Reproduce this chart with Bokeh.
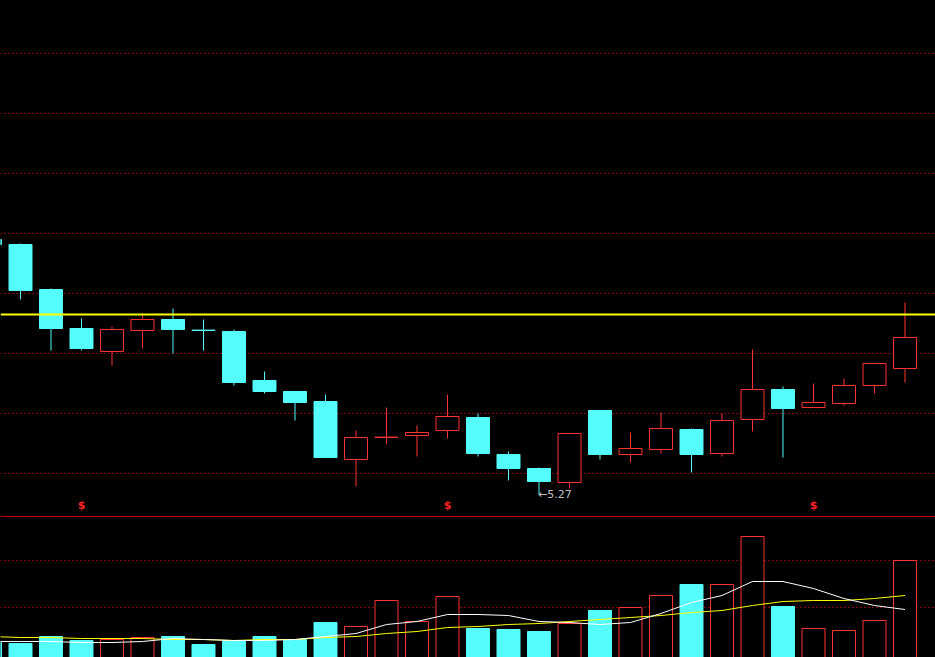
from bokeh.plotting import figure
from bokeh.models import Range1d, Span, ColumnDataSource, GlobalInlineStyleSheet, Grid, FixedTicker
from bokeh.core.properties import value
from bokeh.embed import file_html
from bokeh.resources import INLINE

# ---------------- data ----------------
idx = list(range(31))
opens = [6.545, 6.52, 6.295, 6.10, 5.985, 6.09, 6.145, 6.092, 6.085, 5.84, 5.785,
         5.735, 5.445, 5.555, 5.565, 5.59, 5.655, 5.47, 5.40, 5.33, 5.69,
         5.47, 5.495, 5.595, 5.475, 5.645, 5.795, 5.705, 5.725, 5.815, 5.90]
closes = [6.52, 6.29, 6.10, 6.00, 6.095, 6.145, 6.095, 6.090, 5.83, 5.785, 5.73,
          5.455, 5.555, 5.557, 5.58, 5.66, 5.475, 5.40, 5.335, 5.575, 5.47,
          5.50, 5.60, 5.47, 5.64, 5.795, 5.70, 5.73, 5.815, 5.925, 6.055]
highs = [6.545, 6.525, 6.30, 6.15, 6.11, 6.175, 6.20, 6.145, 6.095, 5.885, 5.785,
         5.77, 5.59, 5.705, 5.615, 5.77, 5.675, 5.485, 5.405, 5.575, 5.69,
         5.58, 5.68, 5.60, 5.675, 5.995, 5.81, 5.825, 5.85, 5.925, 6.23]
lows = [6.52, 6.245, 5.99, 5.99, 5.915, 6.00, 5.975, 5.99, 5.815, 5.775, 5.64,
        5.455, 5.31, 5.52, 5.46, 5.55, 5.46, 5.34, 5.27, 5.30, 5.445,
        5.43, 5.475, 5.38, 5.46, 5.585, 5.455, 5.705, 5.715, 5.775, 5.83]
volumes = [15, 14, 21, 17, 18, 20, 21, 13, 17, 21, 18,
           35, 31, 57, 36, 61, 29, 28, 26, 34, 47,
           50, 62, 73, 73, 121, 51, 29, 27, 37, 97]
vol_ma5 = [16, 16, 16, 15, 15, 16, 19, 18, 17, 17, 18,
           21, 24, 33, 36, 43, 43, 42, 36, 35, 33,
           35, 44, 55, 62, 76, 76, 69, 59, 52, 48]
vol_ma10 = [21, 20, 20, 19, 19, 19, 18, 18, 17, 18, 18,
            20, 21, 24, 26, 30, 31, 33, 34, 36, 38,
            40, 42, 45, 47, 52, 56, 57, 57, 59, 62]
price_grid = [5.375, 5.675, 5.975, 6.275, 6.575, 6.875, 7.175, 7.475]
vol_grid = [50, 97]
ref_price = 6.17          # yellow horizontal line
panel_split = 5.16        # price/volume separator
marker_idx = [3, 15, 27]  # "$" info markers
marker_price = 5.215

CYAN = "#54FCFC"
RED = "#FF3232"
GRID = "#FF1010"

up = [c >= o for o, c in zip(opens, closes)]


def pick(seq, want_up):
    return [v for v, u in zip(seq, up) if u == want_up]


up_src = ColumnDataSource(dict(x=pick(idx, True), o=pick(opens, True), c=pick(closes, True),
                               h=pick(highs, True), l=pick(lows, True), vol=pick(volumes, True)))
dn_src = ColumnDataSource(dict(x=pick(idx, False), o=pick(opens, False), c=pick(closes, False),
                               h=pick(highs, False), l=pick(lows, False), vol=pick(volumes, False)))

p = figure(width=935, height=657, output_backend="svg", toolbar_location=None,
           x_range=Range1d(0.3443, 31.0), y_range=Range1d(4.455, 7.74),
           min_border=0, background_fill_color="black", border_fill_color="black",
           outline_line_color=None)
p.extra_y_ranges = {"vol": Range1d(0, 657)}
p.axis.visible = False
p.xgrid.visible = False
p.stylesheets = [GlobalInlineStyleSheet(css="html,body{margin:0;padding:0;background:#000;overflow:hidden;}")]

# grids (under the candles)
p.ygrid.ticker = FixedTicker(ticks=price_grid)
p.ygrid.grid_line_color = GRID
p.ygrid.grid_line_dash = "1 3"
p.ygrid.grid_line_width = 1
vgrid = Grid(dimension=1, ticker=FixedTicker(ticks=vol_grid), y_range_name="vol",
             grid_line_color=GRID, grid_line_dash="1 3", grid_line_width=1)
p.add_layout(vgrid)
p.add_layout(Span(location=panel_split, dimension="width", line_color="#D00000",
                  line_width=1, level="underlay"))

# wicks
p.segment(x0="x", y0="l", x1="x", y1="h", source=up_src, line_color=RED, line_width=1)
p.segment(x0="x", y0="l", x1="x", y1="h", source=dn_src, line_color=CYAN, line_width=1)
# bodies
p.vbar(x="x", width=0.754, top="o", bottom="c", source=dn_src,
       fill_color=CYAN, line_color=CYAN, line_width=1)
p.vbar(x="x", width=0.754, top="c", bottom="o", source=up_src,
       fill_color="black", line_color=RED, line_width=1)

# reference line
p.add_layout(Span(location=ref_price, dimension="width", line_color="#FFFF00", line_width=2))

# low label
imin = lows.index(min(lows))
p.text(x=[imin], y=[lows[imin]], text=[f"\u2190{lows[imin]:.2f}"],
       text_color="#C0C0C0", text_font=value("DejaVu Sans"), text_font_size="11px",
       text_align="left", text_baseline="middle", x_offset=-1)

# info markers
p.text(x=marker_idx, y=[marker_price] * len(marker_idx), text=["$"] * len(marker_idx),
       text_color="#FF2020", text_font=value("DejaVu Sans"), text_font_size="11px",
       text_font_style="bold", text_align="center", text_baseline="middle")

# volume bars
p.vbar(x="x", width=0.754, top="vol", bottom=0, source=dn_src, y_range_name="vol",
       fill_color=CYAN, line_color=CYAN, line_width=1)
p.vbar(x="x", width=0.754, top="vol", bottom=0, source=up_src, y_range_name="vol",
       fill_color="black", line_color=RED, line_width=1)

# volume moving averages
p.line(idx, vol_ma10, y_range_name="vol", line_color="#FFFF00", line_width=1)
p.line(idx, vol_ma5, y_range_name="vol", line_color="#FFFFFF", line_width=1)

open("out.html", "w").write(file_html(p, INLINE))
